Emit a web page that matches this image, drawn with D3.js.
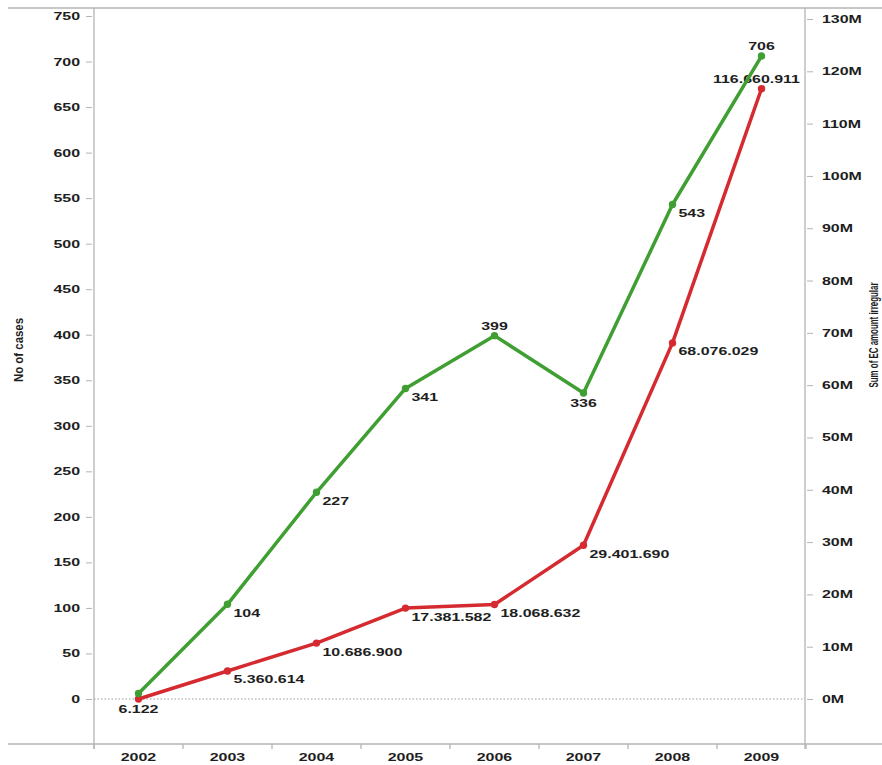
<!DOCTYPE html>
<meta charset="utf-8">
<head>
    <script type="text/javascript" src="https://cdn.jsdelivr.net/npm/d3@7/dist/d3.min.js"></script>
	<style>
  body { margin: 0; background: #fff; }
  text { font-family: "Liberation Sans", Arial, sans-serif; font-weight: bold; font-size: 11px; fill: #1e1e1e; }
  .title { font-size: 13px; }
  .frame { stroke: #b4b4b4; stroke-width: 1.3; fill: none; }
  .tick line { stroke: #b4b4b4; }
  .zero { stroke: #9a9a9a; stroke-dasharray: 1.5 2; stroke-width: 1; }
	</style>
</head>
<body>
<script>
    // data
    var years = ["2002", "2003", "2004", "2005", "2006", "2007", "2008", "2009"];
    var cases = [6, 104, 227, 341, 399, 336, 543, 706];
    var amounts = [6122, 5360614, 10686900, 17381582, 18068632, 29401690, 68076029, 116660911];
    var amountLabels = ["6.122", "5.360.614", "10.686.900", "17.381.582", "18.068.632", "29.401.690", "68.076.029", "116.660.911"];
    // where the value label sits: r = right-below, a = above, b = below, n = none
    var casesPos = ["n", "r", "r", "r", "a", "b", "r", "a"];
    var amountPos = ["b", "r", "r", "r", "r", "r", "r", "a"];
    var leftTicks = d3.range(0, 751, 50);
    var rightTicks = d3.range(0, 130000001, 10000000);

    var w = 882, h = 765;
    var stretch = 1.45;   // the picture's text is wide

    var svg = d3.select("body").append("svg")
        .attr("width", w).attr("height", h);

    var x = d3.scaleBand().domain(years).range([94, 806]);
    var yL = d3.scaleLinear().domain([0, 750]).range([699, 16]);
    var yR = d3.scaleLinear().domain([0, 130000000]).range([699, 19]);
    var cx = function(d) { return x(d) + x.bandwidth() / 2; };

    function widen(sel) {
        sel.each(function() {
            var len = this.getComputedTextLength();
            d3.select(this).attr("textLength", len * stretch).attr("lengthAdjust", "spacingAndGlyphs");
        });
    }

    // frame lines
    svg.append("line").attr("class", "frame").attr("x1", 8).attr("x2", w).attr("y1", 8).attr("y2", 8);
    svg.append("line").attr("class", "frame").attr("x1", 8).attr("x2", w).attr("y1", 744).attr("y2", 744);
    svg.append("line").attr("class", "frame").attr("x1", 94).attr("x2", 94).attr("y1", 8).attr("y2", 749);
    svg.append("line").attr("class", "frame").attr("x1", 805).attr("x2", 805).attr("y1", 8).attr("y2", 749);

    // zero line
    svg.append("line").attr("class", "zero").attr("x1", 94).attr("x2", 805)
        .attr("y1", yL(0)).attr("y2", yL(0));

    // left axis
    var gl = svg.append("g").attr("transform", "translate(94,0)")
        .call(d3.axisLeft(yL).tickValues(leftTicks).tickSize(8).tickPadding(6));
    gl.select(".domain").remove();
    gl.selectAll(".tick line").attr("x1", -2);
    gl.selectAll(".tick text").attr("font-size", null).attr("font-family", null).attr("fill", null);
    widen(gl.selectAll(".tick text"));

    // right axis
    var gr = svg.append("g").attr("transform", "translate(805,0)")
        .call(d3.axisRight(yR).tickValues(rightTicks).tickSize(8).tickPadding(9)
            .tickFormat(function(d) { return (d / 1000000) + "M"; }));
    gr.select(".domain").remove();
    gr.selectAll(".tick line").attr("x1", 2);
    gr.selectAll(".tick text").attr("font-size", null).attr("font-family", null).attr("fill", null);
    widen(gr.selectAll(".tick text"));

    // bottom axis
    var gb = svg.append("g").attr("transform", "translate(0,744)")
        .call(d3.axisBottom(x).tickSize(0).tickPadding(9));
    gb.select(".domain").remove();
    gb.selectAll(".tick text").attr("font-size", null).attr("font-family", null).attr("fill", null);
    widen(gb.selectAll(".tick text"));
    gb.selectAll(".sep").data(years.map(function(d) { return x(d); }).concat([x.range()[1]]))
        .enter().append("line").attr("class", "frame")
        .attr("x1", function(d) { return d; }).attr("x2", function(d) { return d; })
        .attr("y1", 0).attr("y2", 5);

    // axis titles
    svg.append("text").attr("class", "title").attr("transform", "translate(23,350) rotate(-90)")
        .attr("text-anchor", "middle").attr("textLength", 64).attr("lengthAdjust", "spacingAndGlyphs")
        .text("No of cases");
    svg.append("text").attr("class", "title").attr("transform", "translate(878,335) rotate(-90)")
        .attr("text-anchor", "middle").attr("textLength", 105).attr("lengthAdjust", "spacingAndGlyphs")
        .text("Sum of EC amount irregular");

    function series(vals, labels, pos, y, color) {
        var pts = years.map(function(d, i) { return { x: cx(d), y: y(vals[i]), t: labels[i], p: pos[i] }; });
        svg.append("path").datum(pts)
            .attr("fill", "none").attr("stroke", color).attr("stroke-width", 3.5)
            .attr("stroke-linejoin", "round")
            .attr("d", d3.line().x(function(d) { return d.x; }).y(function(d) { return d.y; }));
        svg.append("g").selectAll("circle").data(pts).enter().append("circle")
            .attr("cx", function(d) { return d.x; }).attr("cy", function(d) { return d.y; })
            .attr("r", 3.7).attr("fill", color);
        var lab = svg.append("g").selectAll("text").data(pts.filter(function(d) { return d.p != "n"; }))
            .enter().append("text")
            .attr("x", function(d) { return d.p == "r" ? d.x + 6 : d.x - (d.p == "a" && d.t.length > 4 ? 5 : 0); })
            .attr("y", function(d) { return d.p == "r" ? d.y + 12.5 : d.p == "a" ? d.y - 6 : d.y + 14; })
            .attr("text-anchor", function(d) { return d.p == "r" ? "start" : "middle"; })
            .text(function(d) { return d.t; });
        widen(lab);
    }

    series(amounts, amountLabels, amountPos, yR, "#d52a30");
    series(cases, cases.map(String), casesPos, yL, "#3f9f32");
</script>
</body>
</html>
